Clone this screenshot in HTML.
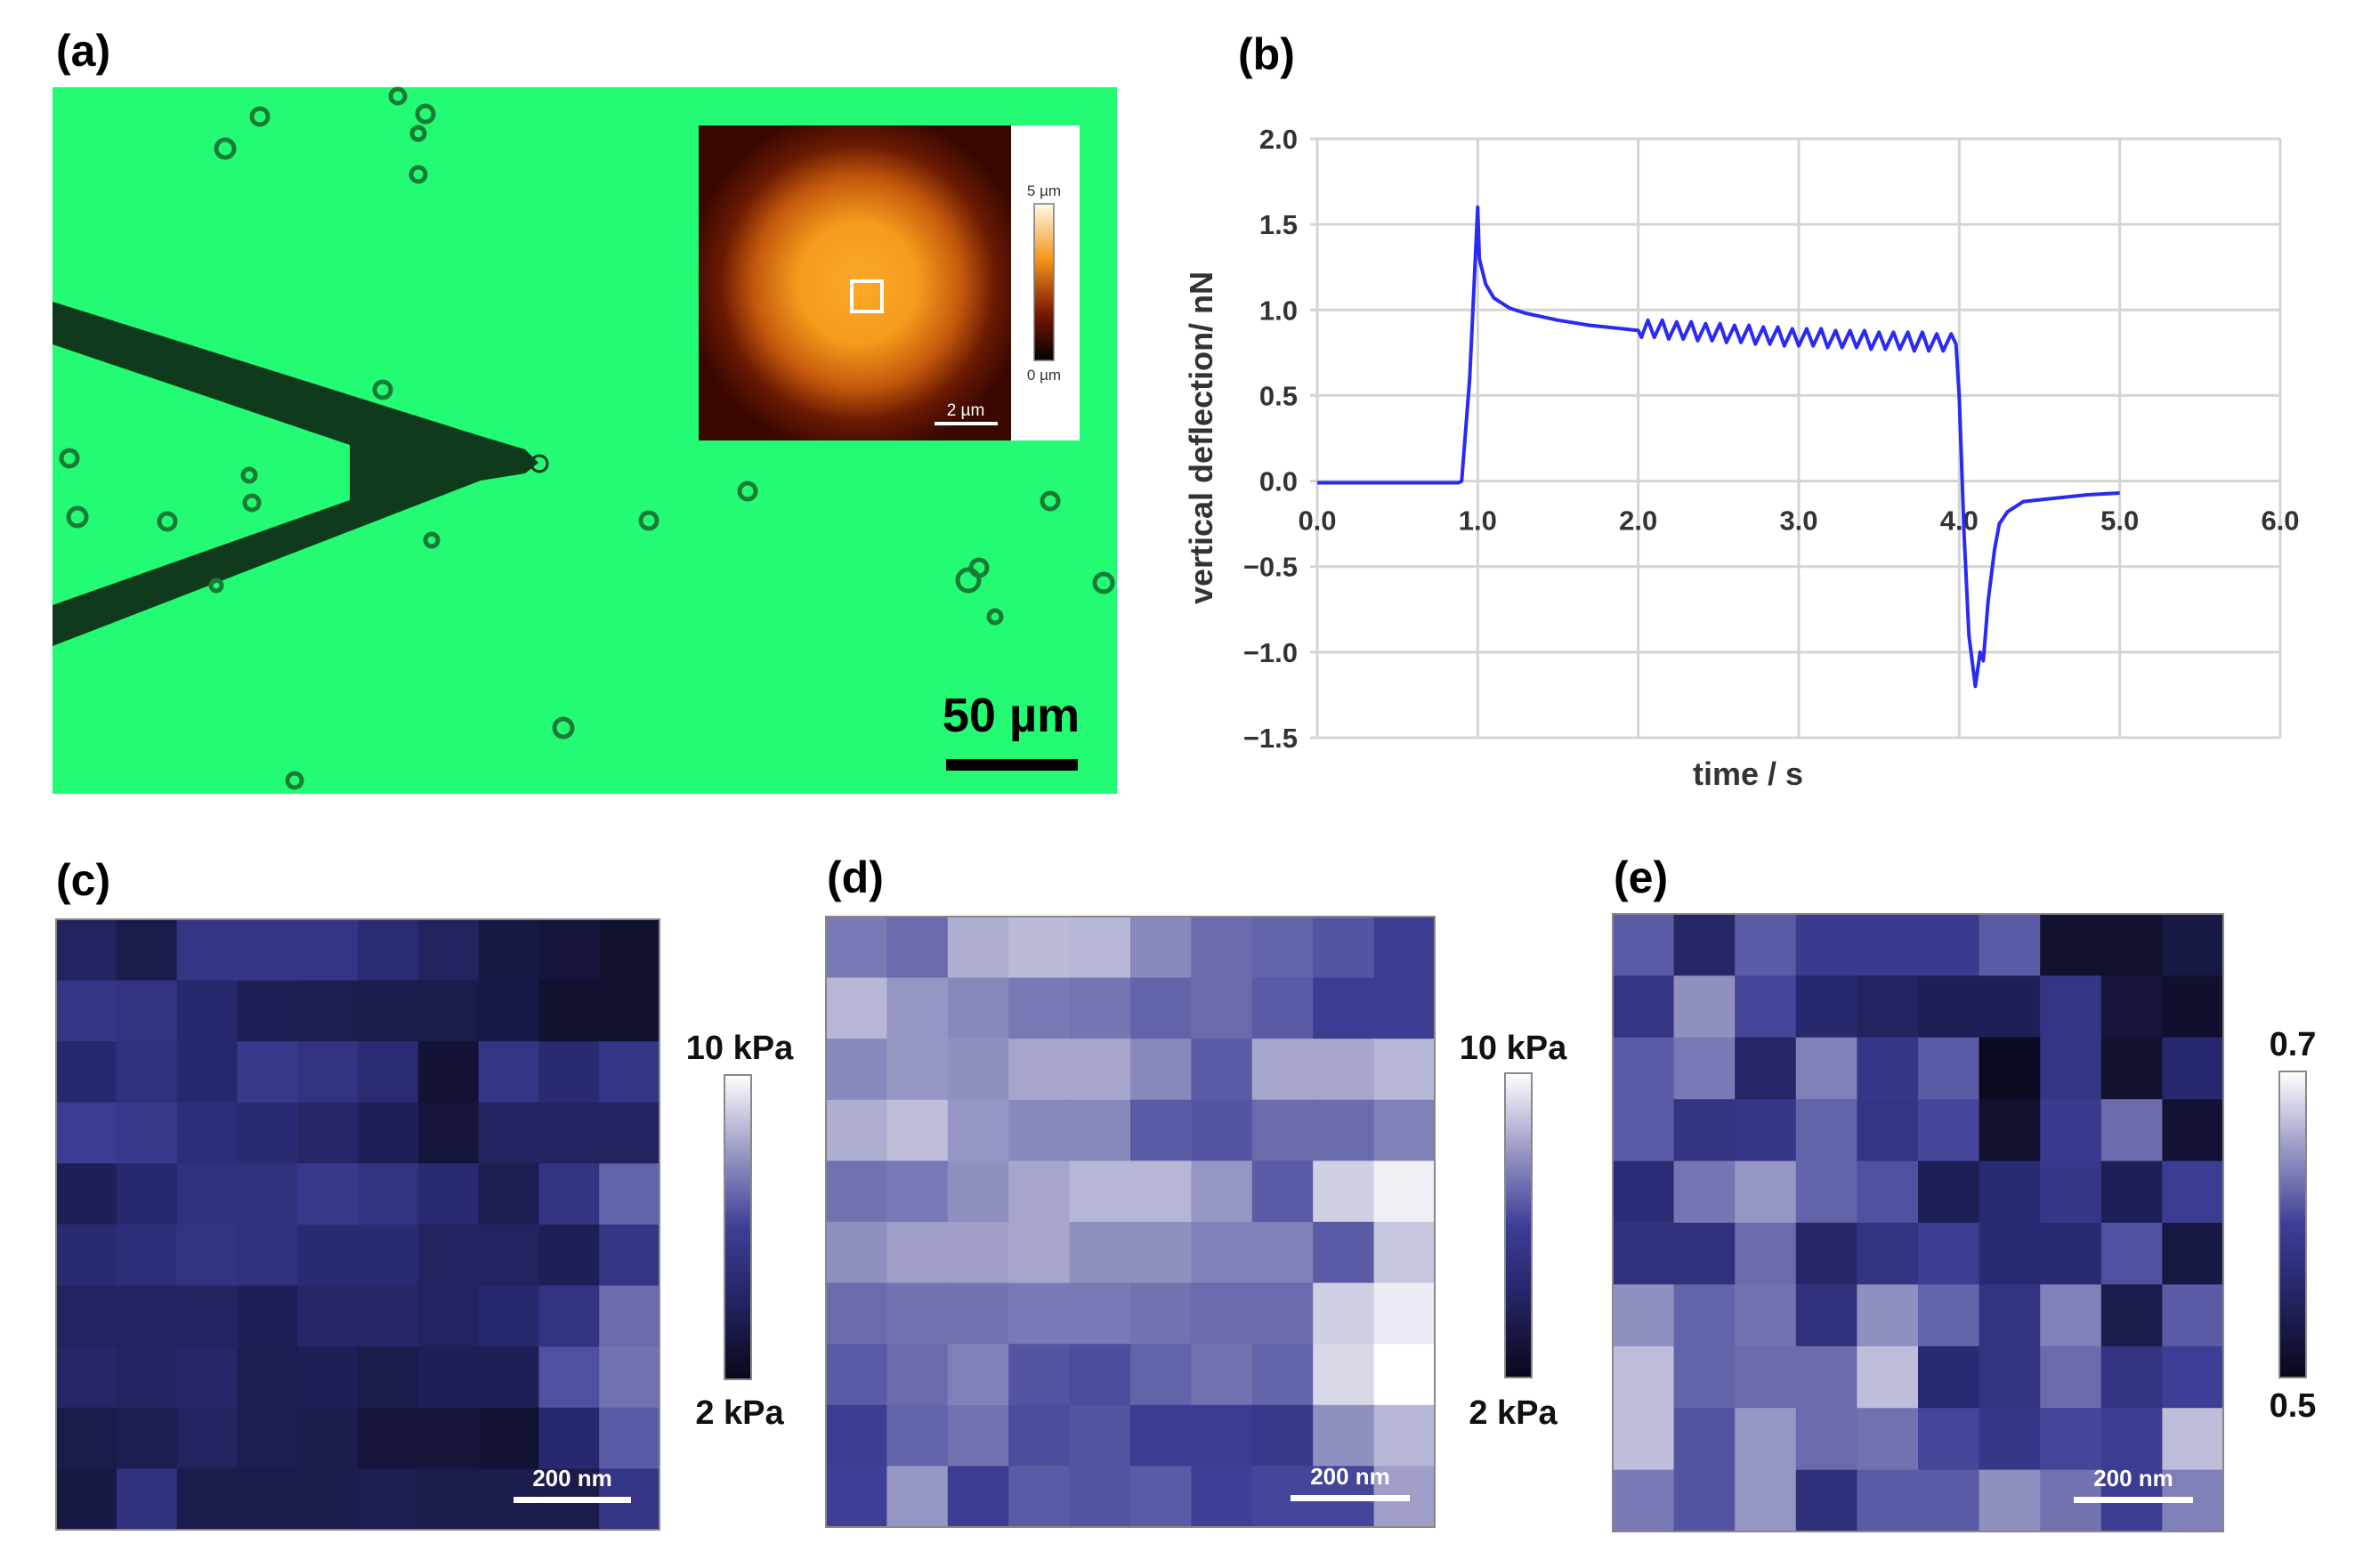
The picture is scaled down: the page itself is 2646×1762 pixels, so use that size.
<!DOCTYPE html>
<html><head><meta charset="utf-8">
<style>
html,body{margin:0;padding:0;background:#fff;}
svg{display:block;font-family:"Liberation Sans",Arial,sans-serif;}
</style></head>
<body>
<svg id="fig" width="2646" height="1762" viewBox="0 0 2646 1762" xmlns="http://www.w3.org/2000/svg">
<defs>
<radialGradient id="afm" cx="0.51" cy="0.5" r="0.55">
<stop offset="0" stop-color="#fba928"/><stop offset="0.35" stop-color="#f59a1c"/><stop offset="0.6" stop-color="#c55a0c"/><stop offset="0.8" stop-color="#6a1a02"/><stop offset="1" stop-color="#3a0800"/>
</radialGradient>
<linearGradient id="afmbar" x1="0" y1="1" x2="0" y2="0">
<stop offset="0" stop-color="#000"/><stop offset="0.3" stop-color="#7a1800"/><stop offset="0.65" stop-color="#f5961c"/><stop offset="1" stop-color="#fffbe8"/>
</linearGradient>
<linearGradient id="kbar" x1="0" y1="1" x2="0" y2="0">
<stop offset="0" stop-color="#08081a"/><stop offset="0.3" stop-color="#28286e"/><stop offset="0.5" stop-color="#3e3e96"/><stop offset="0.75" stop-color="#9a9ac6"/><stop offset="1" stop-color="#ffffff"/>
</linearGradient>
</defs>
<!-- Panel a -->
<text x="63" y="74" font-size="50" font-weight="bold">(a)</text>
<g>
<rect x="59" y="98" width="1196" height="794" fill="#24fb74"/>
<polygon points="59,339 540,490 590,505 605,520 590,532 540,540 59,726 59,680 393,562 393,500 59,387" fill="#103a1c"/>
<circle cx="606" cy="521" r="9" fill="none" stroke="#103a1c" stroke-width="3"/>
<g fill="none" stroke="#1a7a36" stroke-width="5">
<circle cx="292" cy="131" r="9"/><circle cx="253" cy="167" r="10"/><circle cx="478" cy="128" r="9"/><circle cx="470" cy="196" r="8"/><circle cx="470" cy="150" r="7"/><circle cx="447" cy="108" r="8"/>
<circle cx="430" cy="438" r="9"/><circle cx="78" cy="515" r="9"/><circle cx="87" cy="581" r="10"/><circle cx="188" cy="586" r="9"/><circle cx="283" cy="565" r="8"/><circle cx="280" cy="534" r="7"/>
<circle cx="485" cy="607" r="7"/><circle cx="729" cy="585" r="9"/><circle cx="840" cy="552" r="9"/><circle cx="1180" cy="563" r="9"/><circle cx="1240" cy="655" r="10"/>
<circle cx="1088" cy="652" r="12"/><circle cx="1100" cy="638" r="9"/><circle cx="1118" cy="693" r="7"/><circle cx="633" cy="818" r="10"/><circle cx="331" cy="877" r="8"/><circle cx="243" cy="658" r="6"/>
</g>
<text x="1136" y="822" font-size="54" font-weight="bold" text-anchor="middle" fill="#000">50 µm</text>
<rect x="1063" y="853" width="148" height="13" fill="#000"/>
</g>
<g>
<rect x="785" y="141" width="351" height="354" fill="url(#afm)"/>
<rect x="957" y="316" width="34" height="34" fill="none" stroke="#fff" stroke-width="4"/>
<rect x="1050" y="474" width="71" height="4" fill="#fff"/>
<text x="1085" y="467" font-size="19" fill="#fff" text-anchor="middle">2 µm</text>
<rect x="1136" y="141" width="77" height="354" fill="#fff"/>
<rect x="1162" y="229" width="22" height="176" fill="url(#afmbar)" stroke="#777" stroke-width="1.5"/>
<text x="1173" y="220" font-size="17" text-anchor="middle" fill="#333">5 µm</text>
<text x="1173" y="427" font-size="17" text-anchor="middle" fill="#333">0 µm</text>
</g>
<!-- Panel b -->
<text x="1391" y="78" font-size="50" font-weight="bold">(b)</text>
<g id="chartb"></g>
<!-- Panels c,d,e -->
<text x="63" y="1006" font-size="50" font-weight="bold">(c)</text>
<text x="929" y="1003" font-size="50" font-weight="bold">(d)</text>
<text x="1813" y="1003" font-size="50" font-weight="bold">(e)</text>
<g id="heatmaps"></g>
</svg>
<script>
// ---- chart b data ----
const timeS = [0,0.5,0.88,0.9,0.95,0.98,1.0,1.01,1.05,1.1,1.2,1.3,1.5,1.7,1.9,2.0,
2.02,2.06,2.10,2.15,2.19,2.24,2.28,2.33,2.37,2.42,2.46,2.51,2.55,2.60,2.64,2.69,2.73,2.78,2.82,2.87,2.91,2.96,3.00,3.05,3.09,3.14,3.18,3.23,3.27,3.32,3.36,3.41,3.45,3.50,3.54,3.59,3.63,3.68,3.72,3.77,3.81,3.86,3.90,3.95,3.98,
4.0,4.03,4.06,4.1,4.13,4.15,4.18,4.22,4.25,4.3,4.4,4.6,4.8,5.0];
const deflectionNN = [-0.01,-0.01,-0.01,0.0,0.6,1.2,1.6,1.3,1.15,1.07,1.01,0.98,0.94,0.91,0.89,0.88,
0.84,0.94,0.84,0.94,0.83,0.93,0.83,0.93,0.82,0.92,0.82,0.92,0.81,0.91,0.81,0.91,0.80,0.90,0.80,0.90,0.79,0.89,0.79,0.89,0.79,0.89,0.78,0.88,0.78,0.88,0.78,0.88,0.77,0.87,0.77,0.87,0.77,0.87,0.76,0.87,0.76,0.86,0.76,0.86,0.80,
0.5,-0.3,-0.9,-1.2,-1.0,-1.05,-0.7,-0.4,-0.25,-0.18,-0.12,-0.1,-0.08,-0.07];
const xTicks = [0,1,2,3,4,5,6];
const yTicks = [2.0,1.5,1.0,0.5,0.0,-0.5,-1.0,-1.5];

// ---- heatmap data (normalized 0..1 along colorbar) ----
const mapC = [
[.25,.18,.42,.42,.42,.33,.25,.15,.12,.08],
[.42,.40,.30,.22,.20,.18,.18,.16,.08,.08],
[.30,.38,.30,.45,.40,.33,.10,.42,.32,.42],
[.48,.45,.35,.32,.28,.22,.12,.25,.25,.25],
[.22,.30,.38,.38,.45,.40,.32,.20,.40,.60],
[.32,.35,.40,.38,.32,.32,.25,.25,.22,.42],
[.25,.25,.25,.22,.28,.28,.25,.30,.40,.62],
[.28,.25,.28,.20,.22,.18,.22,.22,.55,.64],
[.18,.20,.25,.20,.18,.12,.12,.10,.30,.58],
[.15,.38,.18,.18,.18,.20,.18,.18,.18,.42]];
const mapD = [
[.66,.62,.80,.83,.82,.70,.62,.60,.56,.48],
[.82,.74,.70,.66,.65,.60,.62,.58,.48,.48],
[.70,.74,.72,.78,.78,.70,.58,.78,.78,.82],
[.80,.84,.74,.70,.70,.58,.56,.62,.62,.68],
[.64,.66,.72,.78,.82,.82,.74,.58,.88,.96],
[.72,.76,.76,.78,.72,.72,.68,.68,.58,.86],
[.62,.64,.64,.66,.66,.64,.62,.62,.88,.95],
[.58,.62,.68,.56,.54,.60,.64,.60,.90,1.0],
[.48,.60,.64,.54,.56,.48,.48,.45,.72,.82],
[.50,.74,.48,.58,.56,.58,.50,.52,.52,.76]];
const mapE = [
[.58,.28,.58,.46,.46,.46,.58,.08,.08,.15],
[.42,.72,.52,.30,.25,.22,.22,.42,.12,.07],
[.58,.66,.28,.68,.44,.58,.02,.42,.08,.30],
[.58,.40,.44,.60,.42,.52,.08,.46,.62,.10],
[.34,.65,.74,.60,.55,.22,.32,.44,.22,.48],
[.38,.38,.62,.28,.40,.48,.32,.32,.55,.15],
[.72,.60,.64,.38,.72,.60,.40,.68,.18,.58],
[.84,.60,.62,.62,.84,.32,.40,.62,.40,.50],
[.84,.56,.74,.62,.64,.52,.44,.52,.48,.84],
[.66,.56,.74,.36,.58,.58,.72,.64,.48,.68]];
const colorbarLabelsKPa = ["10 kPa","2 kPa"];
const colorbarLabelsE = ["0.7","0.5"];

const NS="http://www.w3.org/2000/svg";
function mk(tag,attrs,parent){const e=document.createElementNS(NS,tag);for(const k in attrs)e.setAttribute(k,attrs[k]);parent.appendChild(e);return e;}

// chart b
const gb=document.getElementById('chartb');
const X0=1480,X1=2562,Y0=156,Y1=829;
const xs=t=>X0+(t-0)/(6-0)*(X1-X0);
const ys=v=>Y0+(2.0-v)/(2.0-(-1.5))*(Y1-Y0);
xTicks.forEach(t=>{
  const l=mk('line',{x1:xs(t),x2:xs(t),y1:Y0,y2:Y1,stroke:'#d4d4d4','stroke-width':3},gb);
  
  
  const tx=mk('text',{x:xs(t),y:ys(0)+55,'font-size':31,'font-weight':'bold','text-anchor':'middle',fill:'#333'},gb);
  tx.textContent=t.toFixed(1);
  
  
});
yTicks.forEach(v=>{
  const l=mk('line',{x1:X0-8,x2:X1,y1:ys(v),y2:ys(v),stroke:'#d4d4d4','stroke-width':3},gb);
  
  
  const tx=mk('text',{x:X0-22,y:ys(v)+11,'font-size':31,'font-weight':'bold','text-anchor':'end',fill:'#333'},gb);
  tx.textContent=(v<0?'\u2212':'')+Math.abs(v).toFixed(1);
  
  
});
let d='';
timeS.forEach((t,i)=>{d+=(i?'L':'M')+xs(t).toFixed(1)+' '+ys(deflectionNN[i]).toFixed(1)+' ';});
const line=mk('path',{d:d,fill:'none',stroke:'#2a2af5','stroke-width':4,'stroke-linejoin':'round'},gb);


const xl=mk('text',{x:1964,y:882,'font-size':36,'font-weight':'bold','text-anchor':'middle',fill:'#333'},gb);
xl.textContent='time / s';


const yl=mk('text',{x:0,y:0,'font-size':36,'font-weight':'bold','text-anchor':'middle',fill:'#333',transform:'translate(1362,492) rotate(-90)'},gb);
yl.textContent='vertical deflection/ nN';



// heatmaps
const stops=[[0,[8,8,26]],[0.3,[40,40,110]],[0.5,[62,62,150]],[0.75,[154,154,198]],[1,[255,255,255]]];
function cmap(t){t=Math.max(0,Math.min(1,t));for(let i=1;i<stops.length;i++){if(t<=stops[i][0]){const a=stops[i-1],b=stops[i];const f=(t-a[0])/(b[0]-a[0]);const c=a[1].map((v,k)=>Math.round(v+(b[1][k]-v)*f));return `rgb(${c[0]},${c[1]},${c[2]})`;}}return 'rgb(255,255,255)';}
const hg=document.getElementById('heatmaps');
const panels=[
 {name:'c',data:mapC,x:63,y:1033,w:678,h:686,cb:[814,1208,30,342],lab:colorbarLabelsKPa,lx:831,ly:[1190,1600],sb:[577,1682,132]},
 {name:'d',data:mapD,x:928,y:1030,w:684,h:686,cb:[1691,1206,30,342],lab:colorbarLabelsKPa,lx:1700,ly:[1190,1600],sb:[1450,1680,134]},
 {name:'e',data:mapE,x:1812,y:1027,w:686,h:694,cb:[2561,1204,30,344],lab:colorbarLabelsE,lx:2576,ly:[1186,1592],sb:[2330,1682,134]}];
panels.forEach(p=>{
  const g=mk('g',{},hg);
  
  
  const n=p.data.length,m=p.data[0].length,cw=p.w/m,ch=p.h/n;
  p.data.forEach((row,r)=>row.forEach((v,c)=>{
    const cell=mk('rect',{x:(p.x+c*cw).toFixed(2),y:(p.y+r*ch).toFixed(2),width:(cw+0.6).toFixed(2),height:(ch+0.6).toFixed(2),fill:cmap(v)},g);
    
    
  }));
  mk('rect',{x:p.x,y:p.y,width:p.w,height:p.h,fill:'none',stroke:'#888','stroke-width':2},g);
  const sb=mk('rect',{x:p.sb[0],y:p.sb[1],width:p.sb[2],height:7,fill:'#fff'},g);
  
  
  const st=mk('text',{x:p.sb[0]+p.sb[2]/2,y:p.sb[1]-12,'font-size':26,'font-weight':'bold','text-anchor':'middle',fill:'#fff'},g);
  st.textContent='200 nm';
  
  
  const cb=mk('rect',{x:p.cb[0],y:p.cb[1],width:p.cb[2],height:p.cb[3],fill:'url(#kbar)',stroke:'#888','stroke-width':2},g);
  
  
  p.lab.forEach((s,i)=>{
    const t=mk('text',{x:p.lx,y:p.ly[i],'font-size':38,'font-weight':'bold','text-anchor':'middle',fill:'#111'},g);
    t.textContent=s;
    
    
  });
});
</script>
</body></html>
